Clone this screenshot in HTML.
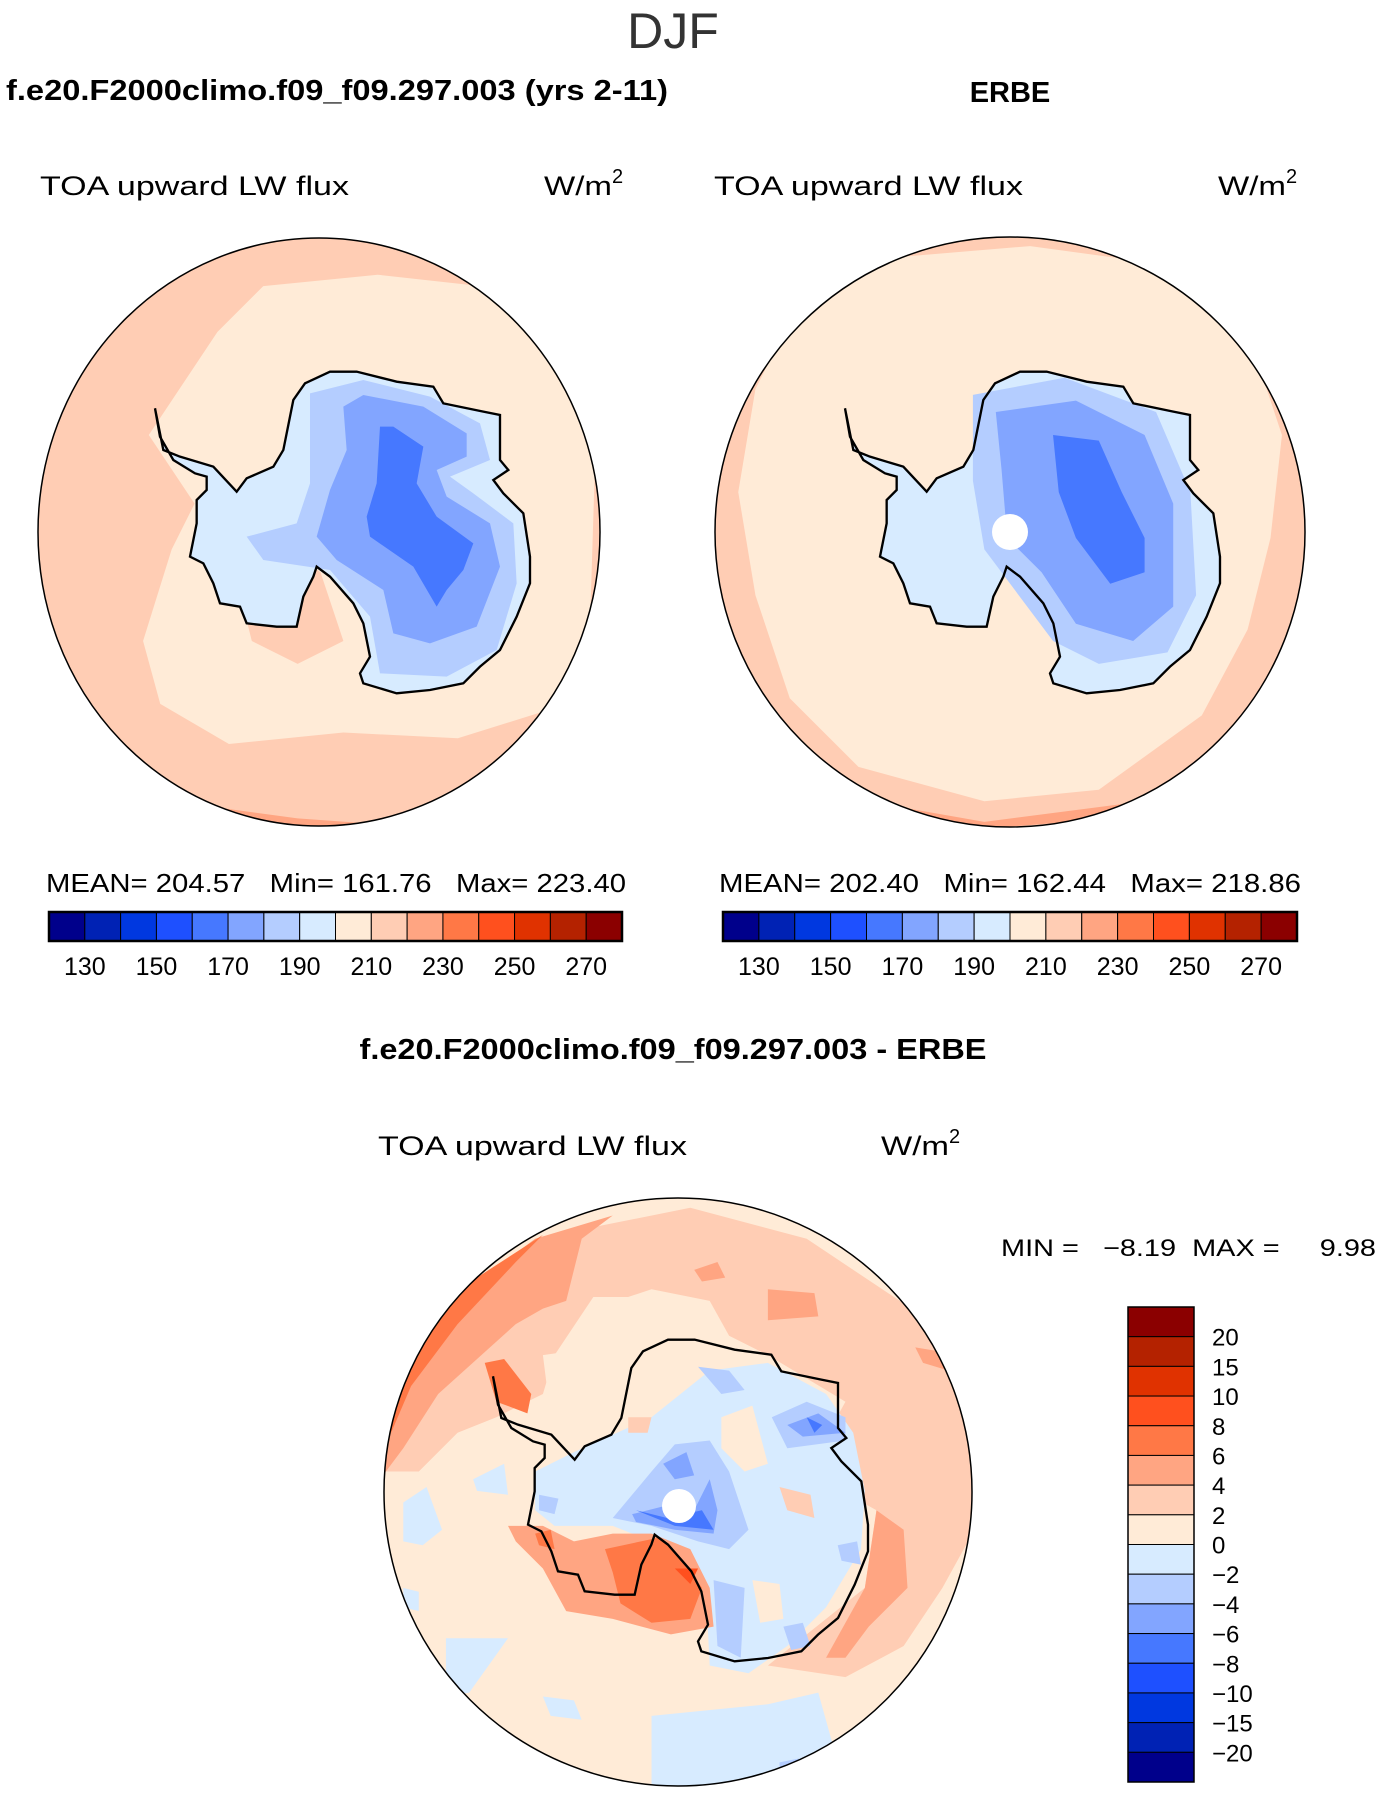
<!DOCTYPE html>
<html><head><meta charset="utf-8"><style>
html,body{margin:0;padding:0;background:#fff}
svg{display:block;font-family:"Liberation Sans",sans-serif}
</style></head><body>
<svg id="fig" width="1385" height="1800" viewBox="0 0 1385 1800" xmlns="http://www.w3.org/2000/svg">
<defs>
<clipPath id="cL"><ellipse cx="319" cy="532" rx="281" ry="294"/></clipPath>
<clipPath id="cR"><circle cx="1010" cy="532" r="295"/></clipPath>
<clipPath id="cB"><circle cx="678" cy="1492" r="294"/></clipPath>
<path id="coast" d="M75,175 L100,300 150,320 250,350 320,425 350,385 430,350 460,300 490,150 525,100 600,65 680,65 800,95 910,110 940,160 1060,185 1110,195 1110,330 1135,360 1090,390 1120,430 1180,490 1200,620 1200,700 1160,800 1110,900 1050,950 1000,1000 900,1020 800,1030 700,1000 690,970 720,920 700,820 670,760 600,680 560,650 550,680 520,740 500,830 440,830 350,820 330,770 270,760 250,700 220,640 180,620 200,520 200,450 230,420 230,380 195,370 130,330 90,260 Z"/>
</defs>

<text x="673" y="48" font-size="50" text-anchor="middle" fill="#333">DJF</text>
<text x="6" y="100" font-size="29" font-weight="bold" textLength="662" lengthAdjust="spacingAndGlyphs">f.e20.F2000climo.f09_f09.297.003 (yrs 2-11)</text>
<text x="1010" y="102" font-size="29" font-weight="bold" text-anchor="middle">ERBE</text>

<text x="40" y="195" font-size="27" textLength="309" lengthAdjust="spacingAndGlyphs">TOA upward LW flux</text>
<text x="544" y="195" font-size="27"><tspan textLength="68" lengthAdjust="spacingAndGlyphs">W/m</tspan><tspan font-size="20" dy="-12">2</tspan></text>
<text x="714" y="195" font-size="27" textLength="309" lengthAdjust="spacingAndGlyphs">TOA upward LW flux</text>
<text x="1218" y="195" font-size="27"><tspan textLength="68" lengthAdjust="spacingAndGlyphs">W/m</tspan><tspan font-size="20" dy="-12">2</tspan></text>

<!-- Left map -->
<g clip-path="url(#cL)">
  <rect x="0" y="200" width="700" height="700" fill="#FFCDB4"/>
  <g transform="scale(1.1446)">
    <polygon fill="#FFEBD7" points="130,380 190,290 230,250 330,240 420,250 480,310 520,400 515,560 480,620 400,645 300,640 200,650 140,615 125,560 150,480 170,440"/>
    <polygon fill="#FFCDB4" points="200,480 240,470 280,500 300,560 260,580 220,560"/>
    <polygon fill="#FFA582" points="40,310 70,270 100,250 60,320"/>
    <polygon fill="#FFA582" points="150,700 260,715 330,720 200,725"/>
  </g>
  <g transform="translate(130,350) scale(0.33333)">
    <use href="#coast" fill="#D7EBFF"/>
    <polygon fill="#D7EBFF" points="200,450 300,470 350,520 300,600 220,640"/>
    <polygon fill="#B4CDFF" points="540,130 700,90 900,140 1050,220 1080,330 960,380 1030,430 1150,520 1160,700 1100,900 950,980 750,970 720,800 600,660 400,630 350,560 500,520 540,400"/>
    <polygon fill="#82A5FF" points="640,170 700,135 880,170 1010,250 1010,320 920,360 950,440 1080,520 1110,650 1040,830 900,880 790,850 760,720 620,630 560,560 600,420 650,300"/>
    <polygon fill="#4678FF" points="750,230 790,230 880,290 860,400 920,500 1030,580 1000,660 950,720 920,770 850,650 720,560 710,500 740,400"/>
    <use href="#coast" fill="none" stroke="#000" stroke-width="7"/>
  </g>
</g>
<ellipse cx="319" cy="532" rx="281" ry="294" fill="none" stroke="#000" stroke-width="1.5"/>

<!-- Right map -->
<g clip-path="url(#cR)">
  <rect x="700" y="200" width="700" height="700" fill="#FFCDB4"/>
  <g transform="scale(1.1446)">
    <polygon fill="#FFEBD7" points="690,280 780,225 900,215 1010,230 1090,290 1120,380 1110,470 1090,550 1050,625 960,690 860,700 750,670 690,610 660,520 645,430 660,340"/>
    <polygon fill="#FFA582" points="700,690 860,718 1000,700 1060,680 960,716 860,724"/>
    <g transform="translate(603,0)">
      <g transform="translate(113.6,305.8) scale(0.29123)">
        <use href="#coast" fill="#D7EBFF"/>
      </g>
    </g>
    <polygon fill="#D7EBFF" points="775,450 860,440 880,500 820,510 780,490"/>
    <polygon fill="#B4CDFF" points="850,345 930,330 1010,360 1040,430 1045,520 1020,570 960,580 920,560 890,520 860,480 850,420"/>
    <polygon fill="#82A5FF" points="870,360 940,350 1000,380 1025,440 1025,530 990,560 940,545 910,500 880,470 875,410"/>
    <polygon fill="#4678FF" points="920,380 960,385 980,430 1000,470 1000,500 970,510 940,470 925,430"/>
  </g>
  <g transform="translate(820,350) scale(0.33333)">
    <use href="#coast" fill="none" stroke="#000" stroke-width="7"/>
  </g>
  <circle cx="1010" cy="532" r="18" fill="#fff"/>
</g>
<circle cx="1010" cy="532" r="295" fill="none" stroke="#000" stroke-width="1.5"/>

<text x="46" y="892" font-size="26" textLength="580" lengthAdjust="spacingAndGlyphs" xml:space="preserve">MEAN= 204.57   Min= 161.76   Max= 223.40</text>
<text x="719" y="892" font-size="26" textLength="582" lengthAdjust="spacingAndGlyphs" xml:space="preserve">MEAN= 202.40   Min= 162.44   Max= 218.86</text>
<g id="cbars"></g>

<text x="673" y="1059" font-size="29" font-weight="bold" text-anchor="middle" textLength="627" lengthAdjust="spacingAndGlyphs">f.e20.F2000climo.f09_f09.297.003 - ERBE</text>
<text x="378" y="1155" font-size="27" textLength="309" lengthAdjust="spacingAndGlyphs">TOA upward LW flux</text>
<text x="881" y="1155" font-size="27"><tspan textLength="68" lengthAdjust="spacingAndGlyphs">W/m</tspan><tspan font-size="20" dy="-12">2</tspan></text>
<text x="1001" y="1256" font-size="24" textLength="375" lengthAdjust="spacingAndGlyphs" xml:space="preserve">MIN =   −8.19  MAX =     9.98</text>

<!-- Bottom map -->
<g clip-path="url(#cB)">
  <rect x="350" y="1180" width="680" height="640" fill="#FFEBD7"/>
  <g transform="translate(380,1200) scale(0.38788)">
    <polygon fill="#FFCDB4" points="0,700 100,500 300,250 500,80 800,20 1100,100 1400,300 1560,600 1560,800 1450,1000 1350,1150 1200,1230 1000,1200 1250,1000 1280,800 1100,700 1200,520 1000,400 900,350 700,250 550,250 450,400 420,500 300,560 200,600 100,700"/>
    <polygon fill="#FFEBD7" points="550,280 700,230 850,260 900,350 700,350 600,330"/>
    <polygon fill="#FFEBD7" points="420,400 560,380 600,460 500,520 430,480"/>
    <polygon fill="#FFA582" points="0,720 60,450 200,250 400,100 600,40 520,100 480,260 420,280 350,320 150,500 60,640"/>
    <polygon fill="#FFA582" points="1000,230 1120,240 1130,300 1000,310"/>
    <polygon fill="#FFA582" points="810,180 870,160 890,200 830,210"/>
    <polygon fill="#FFA582" points="1380,380 1440,390 1500,450 1400,420"/>
    <polygon fill="#FF7846" points="0,600 30,460 100,360 250,200 420,90 350,160 200,320 80,480 20,620"/>
    <polygon fill="#FF7846" points="270,420 320,410 390,500 380,550 300,520"/>
    <polygon fill="#D7EBFF" points="400,700 500,650 700,560 850,440 1000,420 1150,500 1220,600 1250,750 1240,900 1150,1050 1050,1150 950,1220 850,1200 840,1000 800,900 700,880 600,840 450,840 400,800"/>
    <polygon fill="#D7EBFF" points="700,1330 1000,1300 1130,1270 1180,1450 1050,1530 700,1580"/>
    <polygon fill="#D7EBFF" points="60,780 120,740 160,850 110,890 60,880"/>
    <polygon fill="#D7EBFF" points="170,1130 330,1130 230,1270 170,1280"/>
    <polygon fill="#D7EBFF" points="240,720 320,680 330,760 250,750"/>
    <polygon fill="#D7EBFF" points="420,1280 500,1290 520,1340 440,1330"/>
    <polygon fill="#D7EBFF" points="60,1000 100,1010 100,1060 60,1050"/>
    <polygon fill="#FFEBD7" points="880,560 960,530 1000,680 940,700 880,640"/>
    <polygon fill="#FFEBD7" points="960,980 1030,990 1040,1080 980,1090"/>
    <polygon fill="#FFCDB4" points="1030,740 1110,760 1120,820 1050,800"/>
    <polygon fill="#FFCDB4" points="640,560 700,560 690,600 640,600"/>
    <polygon fill="#B4CDFF" points="600,820 700,700 760,630 850,620 900,700 950,850 900,900 820,880 700,840"/>
    <polygon fill="#B4CDFF" points="1010,560 1100,520 1200,560 1200,620 1050,640"/>
    <polygon fill="#B4CDFF" points="860,980 940,1000 930,1180 870,1150"/>
    <polygon fill="#B4CDFF" points="820,430 900,440 940,490 880,500"/>
    <polygon fill="#B4CDFF" points="500,910 560,930 580,1000 520,990"/>
    <polygon fill="#B4CDFF" points="1040,1100 1090,1090 1110,1150 1060,1160"/>
    <polygon fill="#B4CDFF" points="1180,890 1230,880 1240,940 1190,930"/>
    <polygon fill="#B4CDFF" points="410,760 460,770 450,810 410,800"/>
    <polygon fill="#B4CDFF" points="1030,1450 1080,1440 1090,1480 1030,1480"/>
    <polygon fill="#82A5FF" points="650,810 730,790 800,820 850,720 870,800 860,860 760,850 660,830"/>
    <polygon fill="#82A5FF" points="730,680 790,650 810,710 760,720"/>
    <polygon fill="#82A5FF" points="1050,580 1130,550 1200,600 1090,610"/>
    <polygon fill="#4678FF" points="660,800 740,820 830,800 860,850 760,840"/>
    <polygon fill="#4678FF" points="1100,560 1140,580 1120,600"/>
    <polygon fill="#FFA582" points="330,840 420,840 500,880 600,860 700,860 800,900 850,1000 860,1100 750,1120 600,1080 480,1060 420,950 350,880"/>
    <polygon fill="#FFA582" points="1280,800 1350,850 1360,1000 1260,1100 1200,1180 1150,1180 1250,1000"/>
    <polygon fill="#FF7846" points="580,900 720,870 780,930 830,1000 800,1080 700,1090 620,1040 600,960"/>
    <polygon fill="#FF7846" points="400,860 440,850 450,900 410,890"/>
    <polygon fill="#FF501E" points="760,950 820,950 800,990"/>
  </g>
  <g transform="translate(468,1318) scale(0.33333)">
    <use href="#coast" fill="none" stroke="#000" stroke-width="7"/>
  </g>
  <circle cx="679" cy="1506" r="17" fill="#fff"/>
</g>
<circle cx="678" cy="1492" r="294" fill="none" stroke="#000" stroke-width="1.5"/>
<g id="vbar"></g>

<script>
const absColors = ["#00008B","#0022B4","#0038E0","#1E50FF","#4678FF","#82A5FF","#B4CDFF","#D7EBFF","#FFEBD7","#FFCDB4","#FFA582","#FF7846","#FF501E","#E03200","#B42200","#8B0000"];
const absLevels = [130,140,150,160,170,180,190,200,210,220,230,240,250,260,270];
const diffColors = ["#8B0000","#B42200","#E03200","#FF501E","#FF7846","#FFA582","#FFCDB4","#FFEBD7","#D7EBFF","#B4CDFF","#82A5FF","#4678FF","#1E50FF","#0038E0","#0022B4","#00008B"];
const diffLevels = ["20","15","10","8","6","4","2","0","−2","−4","−6","−8","−10","−15","−20"];
const NS = "http://www.w3.org/2000/svg";
function mk(tag, attrs, parent){const e=document.createElementNS(NS,tag);for(const k in attrs)e.setAttribute(k,attrs[k]);parent.appendChild(e);return e;}

function hbar(x0, x1, y0, y1, name){
  const g = mk("g", {}, document.getElementById("cbars"));
  
  
  const w = (x1-x0)/absColors.length;
  absColors.forEach((c,i)=>{
    const r = mk("rect",{x:x0+i*w,y:y0,width:w,height:y1-y0,fill:c,stroke:"#000","stroke-width":1},g);
    
    
  });
  mk("rect",{x:x0,y:y0,width:x1-x0,height:y1-y0,fill:"none",stroke:"#000","stroke-width":2.5},g);
  absLevels.forEach((v,i)=>{
    if(i%2) return;
    const t = mk("text",{x:x0+(i+1)*w,y:975,"font-size":25,"text-anchor":"middle"},g);
    t.textContent = v;
    
    
  });
}
hbar(49, 622, 912, 941, "model-colorbar");
hbar(723, 1297, 912, 941, "obs-colorbar");

(function(){
  const g = document.getElementById("vbar");
  
  
  const x0=1128, x1=1194, y0=1307, y1=1782;
  const h=(y1-y0)/diffColors.length;
  diffColors.forEach((c,i)=>{
    const r = mk("rect",{x:x0,y:y0+i*h,width:x1-x0,height:h,fill:c,stroke:"#000","stroke-width":1},g);
    
    
  });
  mk("rect",{x:x0,y:y0,width:x1-x0,height:y1-y0,fill:"none",stroke:"#000","stroke-width":1.5},g);
  diffLevels.forEach((v,i)=>{
    const t = mk("text",{x:1212,y:y0+(i+1)*h+9,"font-size":24},g);
    t.textContent = v;
    
    
  });
})();
</script>
</svg>
</body></html>
